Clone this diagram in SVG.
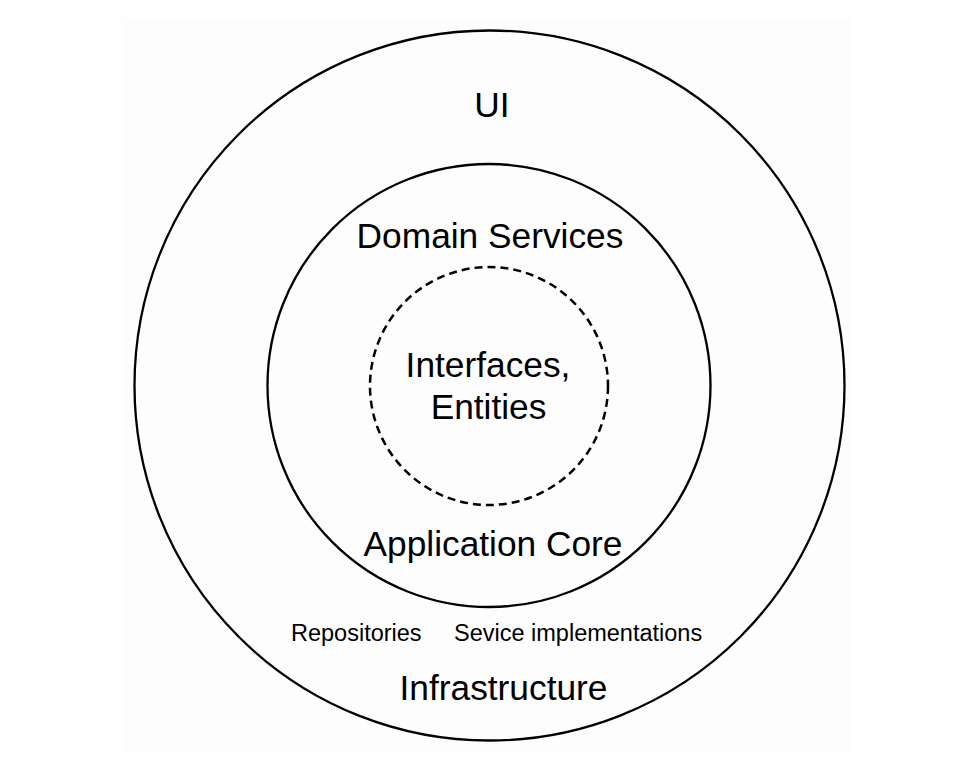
<svg xmlns="http://www.w3.org/2000/svg" width="967" height="769" viewBox="0 0 967 769">
  <style>
    .ring { fill: none; stroke: #000; stroke-width: 2.3; }
    .dash { fill: none; stroke: #000; stroke-width: 2.5; stroke-dasharray: 8 5; }
    .big { font-family: "Liberation Sans", Arial, sans-serif; font-size: 35.3px; fill: #000; text-anchor: middle; }
    .small { font-family: "Liberation Sans", Arial, sans-serif; font-size: 23.5px; fill: #000; }
  </style>
  <rect x="0" y="0" width="967" height="769" fill="#ffffff"/>
  <rect x="122" y="18" width="730" height="734" fill="#fdfdfd"/>
  <g id="ui">
    <circle class="ring" cx="489.5" cy="385.5" r="355"/>
    <text class="big" x="492" y="117">UI</text>
  </g>
  <g id="infrastructure">
    <text class="big" x="503.5" y="700">Infrastructure</text>
    <text class="small" x="291" y="641">Repositories</text>
    <text class="small" x="454" y="641">Sevice implementations</text>
  </g>
  <g id="application-core">
    <circle class="ring" cx="489" cy="385.5" r="221.5"/>
    <text class="big" x="490" y="248">Domain Services</text>
    <text class="big" x="493" y="556">Application Core</text>
  </g>
  <g id="interfaces-entities">
    <circle class="dash" cx="489" cy="386" r="119"/>
    <text class="big" x="488" y="377">Interfaces,</text>
    <text class="big" x="488.5" y="419">Entities</text>
  </g>
  <g id="connectors"></g>
</svg>
